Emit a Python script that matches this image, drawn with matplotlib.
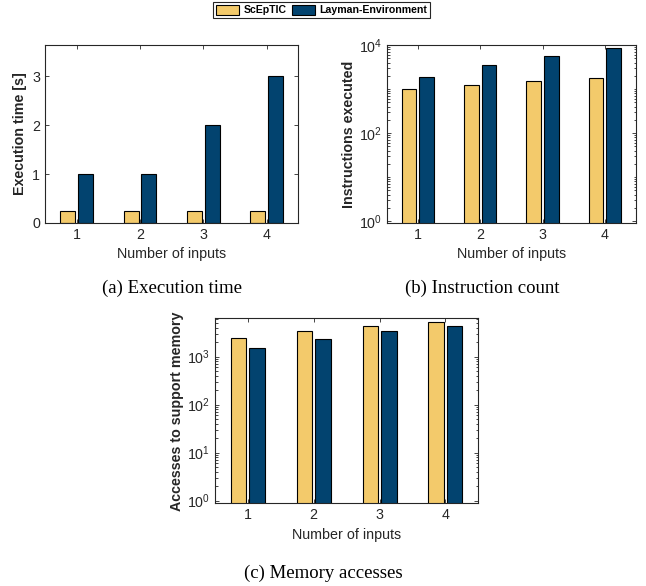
import matplotlib
matplotlib.use("Agg")
import matplotlib.pyplot as plt
import matplotlib.patches as mpatches
import numpy as np
from matplotlib.ticker import LogLocator, FixedLocator, NullFormatter

matplotlib.rcParams.update({
    "font.family": "Liberation Sans", "font.size": 10.3,
    "mathtext.fontset": "custom", "mathtext.rm": "Liberation Sans",
    "mathtext.it": "Liberation Sans:italic", "mathtext.bf": "Liberation Sans:bold",
    "xtick.direction": "in", "ytick.direction": "in",
    "xtick.top": True, "ytick.right": True,
    "axes.edgecolor": "#262626", "xtick.color": "#262626", "ytick.color": "#262626",
    "axes.linewidth": 0.8,
})

# ── data ──────────────────────────────────────────────
inputs = [1, 2, 3, 4]
series = ["ScEpTIC", "Layman-Environment"]
colors = ["#F3CA6B", "#02436F"]

exec_sceptic = [0.25, 0.25, 0.25, 0.25]
exec_layman = [1, 1, 2, 3]

instr_sceptic = [980, 1230, 1490, 1740]
instr_layman = [1900, 3560, 5630, 8500]

mem_sceptic = [2500, 3480, 4440, 5350]
mem_layman = [1540, 2370, 3380, 4440]

captions = ["(a) Execution time", "(b) Instruction count", "(c) Memory accesses"]

W, OFF = 0.235, 0.14

def bars(ax, a, b):
    x = np.array(inputs)
    ax.bar(x - OFF, a, W, color=colors[0], edgecolor="black", linewidth=0.8)
    ax.bar(x + OFF, b, W, color=colors[1], edgecolor="black", linewidth=0.8)
    ax.set_xticks(inputs)
    ax.set_xlim(0.5, 4.5)
    ax.set_xlabel("Number of inputs", color="#262626")
    ax.tick_params(which="both", length=3, width=0.6)
    ax.tick_params(which="minor", length=1.8)

def log_ticks(ax, majors, labels):
    ax.set_yscale("log")
    ax.yaxis.set_major_locator(FixedLocator(majors))
    ax.yaxis.set_minor_locator(LogLocator(base=10, subs=np.arange(1, 10) * 1.0, numticks=20))
    ax.yaxis.set_minor_formatter(NullFormatter())
    ax.set_yticks(majors)
    ax.set_yticklabels(labels)

fig = plt.figure(figsize=(6.46, 5.86), dpi=100)

# (a)
ax1 = fig.add_axes([0.0697, 0.6195, 0.392, 0.3037])
bars(ax1, exec_sceptic, exec_layman)
ax1.set_ylim(0, 3.64)
ax1.set_yticks([0, 1, 2, 3])
ax1.set_ylabel("Execution time [s]", fontweight="bold", color="#262626", labelpad=4)

# (b)
ax2 = fig.add_axes([0.5986, 0.6195, 0.386, 0.3037])
bars(ax2, instr_sceptic, instr_layman)
log_ticks(ax2, [1, 100, 10000], ["$10^{0}$", "$10^{2}$", "$10^{4}$"])
ax2.set_ylim(0.91, 1.0e4)
ax2.set_ylabel("Instructions executed", fontweight="bold", color="#262626", labelpad=2)

# (c)
ax3 = fig.add_axes([0.3328, 0.1411, 0.4076, 0.3157])
bars(ax3, mem_sceptic, mem_layman)
log_ticks(ax3, [1, 10, 100, 1000], ["$10^{0}$", "$10^{1}$", "$10^{2}$", "$10^{3}$"])
ax3.set_ylim(0.88, 6300)
ax3.set_ylabel("Accesses to support memory", fontweight="bold", color="#262626", labelpad=2)

# captions
for (xc, yc), t in zip([(0.2663, 1 - 288 / 586), (0.7461, 1 - 288 / 586), (0.5, 1 - 573 / 586)], captions):
    fig.text(xc, yc, t, ha="center", va="center", family="Liberation Serif", fontsize=13.5)

# legend
handles = [mpatches.Patch(facecolor=c, edgecolor="black", linewidth=0.8, label=s) for c, s in zip(colors, series)]
leg = fig.legend(handles=handles, loc="center", bbox_to_anchor=(0.4977, 0.983), ncol=2,
                 prop={"weight": "bold", "size": 7.6}, fancybox=False, framealpha=1,
                 edgecolor="#262626", handlelength=2.2, handleheight=1.1,
                 columnspacing=0.5, handletextpad=0.4, borderpad=0.25, borderaxespad=0)
leg.get_frame().set_linewidth(0.8)

fig.savefig("out.png", dpi=100)
